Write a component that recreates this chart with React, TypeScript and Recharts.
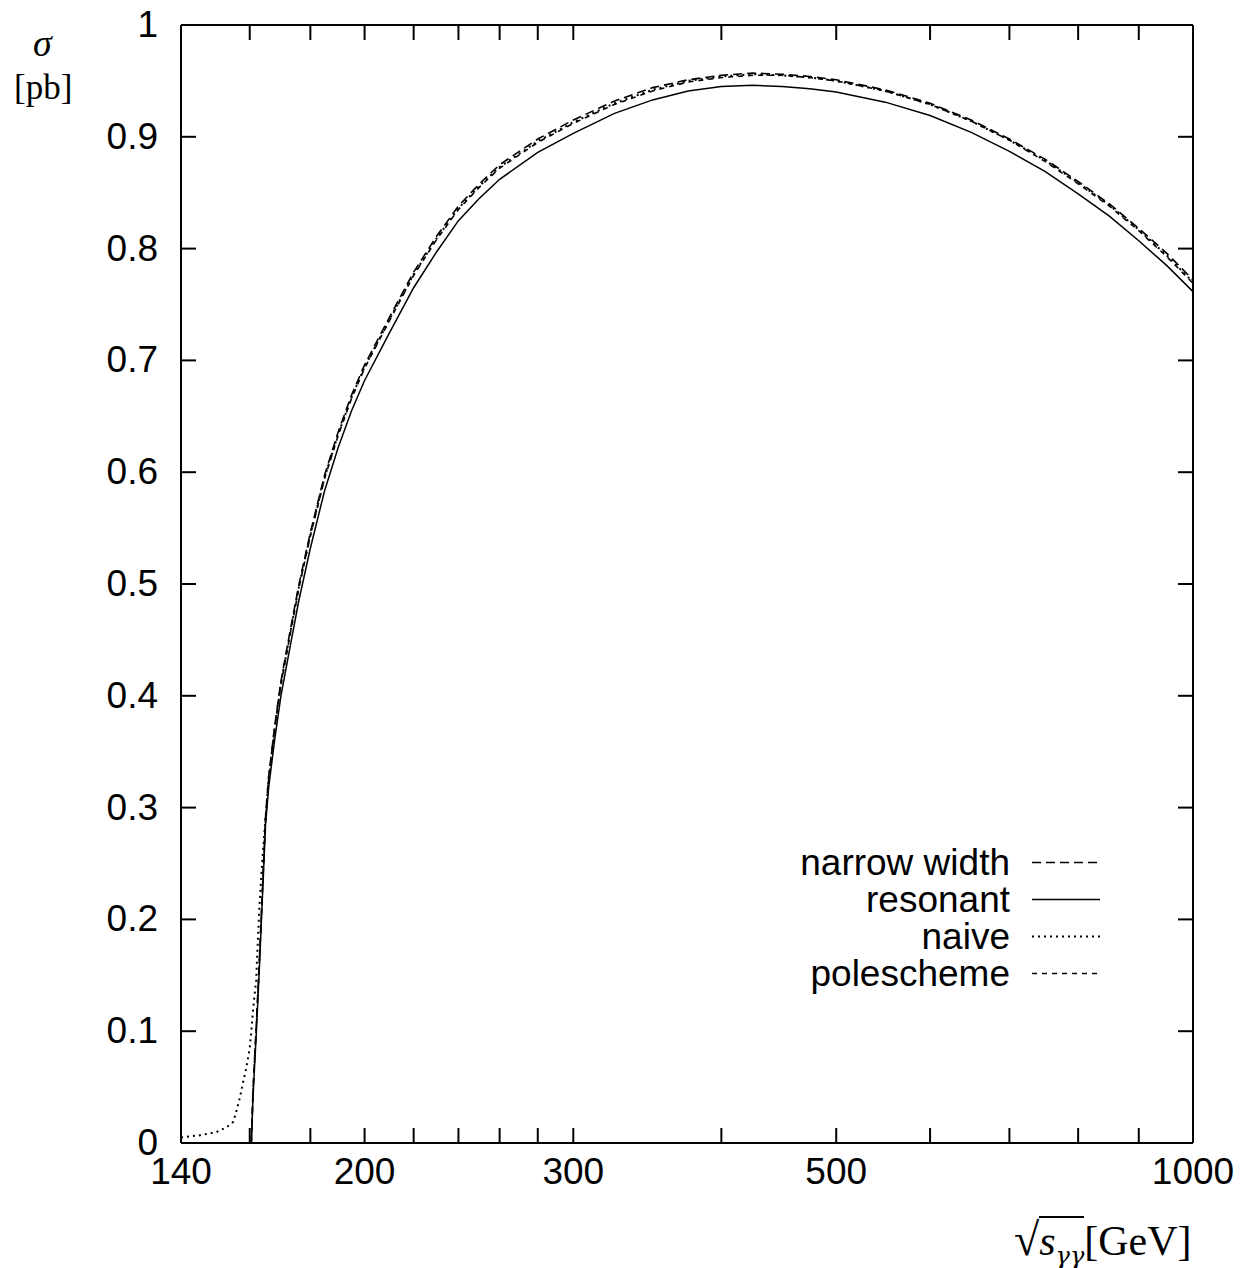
import React from 'react';
import { LineChart, Line, XAxis, YAxis, Legend } from 'recharts';

// sqrt(s) in GeV
const energies = [
  140, 145, 150, 153, 155, 156, 157, 158, 159, 160, 160.5, 161, 161.5, 162, 163, 164, 165, 166,
  168, 170, 173, 176, 180, 185, 190, 195, 200, 210, 220, 230, 240, 250, 260, 280, 300, 325, 350,
  375, 400, 425, 450, 475, 500, 550, 600, 650, 700, 750, 800, 850, 900, 950, 1000,
];

// sigma in pb
const narrowWidth = [
  null, null, null, null, null, null, null, null, null, null, 0, 0.045, 0.075, 0.102, 0.162, 0.228, 0.292, 0.328,
  0.374, 0.413, 0.457, 0.499, 0.546, 0.597, 0.636, 0.669, 0.696, 0.739, 0.779, 0.811, 0.838, 0.858, 0.875, 0.898, 0.915, 0.932, 0.944,
  0.951, 0.955, 0.957, 0.956, 0.954, 0.951, 0.942, 0.93, 0.915, 0.898, 0.88, 0.86, 0.84, 0.818, 0.796, 0.772,
];

const resonant = [
  null, null, null, null, null, null, null, null, null, null, 0, 0.04, 0.068, 0.095, 0.155, 0.22, 0.285, 0.318,
  0.362, 0.4, 0.443, 0.485, 0.532, 0.583, 0.622, 0.655, 0.682, 0.725, 0.765, 0.797, 0.825, 0.845, 0.862, 0.886, 0.903, 0.921, 0.933,
  0.941, 0.945, 0.946, 0.945, 0.943, 0.94, 0.931, 0.919, 0.904, 0.887, 0.869, 0.849, 0.829, 0.807, 0.785, 0.7615,
];

const naive = [
  0.005, 0.0068, 0.0098, 0.0142, 0.019, 0.0295, 0.041, 0.055, 0.068, 0.085, 0.1, 0.118, 0.132, 0.145, 0.21, 0.255, 0.291, 0.326,
  0.372, 0.411, 0.455, 0.497, 0.544, 0.595, 0.634, 0.667, 0.694, 0.737, 0.777, 0.809, 0.836, 0.856, 0.873, 0.896, 0.913, 0.93, 0.942,
  0.95, 0.954, 0.956, 0.955, 0.953, 0.95, 0.941, 0.929, 0.914, 0.897, 0.879, 0.859, 0.839, 0.817, 0.794, 0.77,
];

const poleScheme = [
  null, null, null, null, null, null, null, null, null, null, 0, 0.043, 0.073, 0.1, 0.16, 0.226, 0.29, 0.325,
  0.371, 0.41, 0.454, 0.496, 0.543, 0.594, 0.633, 0.666, 0.693, 0.736, 0.776, 0.808, 0.835, 0.855, 0.872, 0.895, 0.912, 0.929, 0.941,
  0.949, 0.953, 0.955, 0.955, 0.953, 0.95, 0.941, 0.929, 0.914, 0.897, 0.878, 0.858, 0.838, 0.816, 0.793, 0.769,
];

const xTicks = [140, 160, 180, 200, 220, 240, 260, 280, 300, 400, 500, 600, 700, 800, 900, 1000];
const xLabels = [140, 200, 300, 500, 1000];
const yTicks = [0, 0.1, 0.2, 0.3, 0.4, 0.5, 0.6, 0.7, 0.8, 0.9, 1];

const series = [
  { key: 'narrow', name: 'narrow width', dash: '9 5', width: 1.6 },
  { key: 'resonant', name: 'resonant', dash: undefined, width: 1.5 },
  { key: 'naive', name: 'naive', dash: '2 4', width: 2 },
  { key: 'pole', name: 'polescheme', dash: '5 5', width: 1.6 },
];

const data = energies.map((e, i) => ({
  e,
  narrow: narrowWidth[i],
  resonant: resonant[i],
  naive: naive[i],
  pole: poleScheme[i],
}));

const FONT = '"Liberation Sans", Arial, sans-serif';
const SERIF = '"Liberation Serif", "Times New Roman", serif';
const TICK = 15;
const FS = 37;

// gnuplot style: ticks point into the frame on all four sides
function BottomTick({ x, y, payload }: any) {
  return (
    <g>
      <line x1={x} x2={x} y1={y} y2={y - TICK} stroke="#000" strokeWidth={2} />
      {xLabels.includes(payload.value) && (
        <text x={x} y={y + 41} textAnchor="middle" fontFamily={FONT} fontSize={FS} fill="#000">
          {payload.value}
        </text>
      )}
    </g>
  );
}

function TopTick({ x, y }: any) {
  return <line x1={x} x2={x} y1={y} y2={y + TICK} stroke="#000" strokeWidth={2} />;
}

function LeftTick({ x, y, payload }: any) {
  return (
    <g>
      <line x1={x} x2={x + TICK} y1={y} y2={y} stroke="#000" strokeWidth={2} />
      <text x={x - 23} y={y + 12} textAnchor="end" fontFamily={FONT} fontSize={FS} fill="#000">
        {payload.value}
      </text>
    </g>
  );
}

function RightTick({ x, y }: any) {
  return <line x1={x} x2={x - TICK} y1={y} y2={y} stroke="#000" strokeWidth={2} />;
}

function LegendBox({ payload }: any) {
  const items = [...(payload || [])].sort(
    (a: any, b: any) =>
      series.findIndex((s) => s.name === a.value) - series.findIndex((s) => s.name === b.value),
  );
  return (
    <div style={{ fontFamily: FONT, fontSize: FS, color: '#000' }}>
      {items.map((entry: any) => {
        const s = series.find((d) => d.name === entry.value);
        return (
          <div key={entry.value} style={{ display: 'flex', alignItems: 'center', height: 37 }}>
            <span style={{ width: 230, textAlign: 'right', lineHeight: '37px', whiteSpace: 'nowrap' }}>
              {entry.value}
            </span>
            <svg width={90} height={37}>
              <line
                x1={22}
                x2={90}
                y1={18.5}
                y2={18.5}
                stroke="#000"
                strokeWidth={s?.width ?? 1.5}
                strokeDasharray={s?.dash}
              />
            </svg>
          </div>
        );
      })}
    </div>
  );
}

export default function App() {
  // the wrapper cancels the body's top margin so the "1" label has room above the frame
  return (
    <div style={{ position: 'relative', width: 1242, height: 1268, marginTop: -8, background: '#fff' }}>
      <LineChart
        width={1242}
        height={1268}
        data={data}
        margin={{ top: 8, right: 0, bottom: 65, left: 0 }}
        style={{ overflow: 'visible' }}
      >
        <XAxis
          dataKey="e"
          type="number"
          scale="log"
          domain={[140, 1000]}
          allowDataOverflow
          ticks={xTicks}
          interval={0}
          height={60}
          tickSize={0}
          tickMargin={0}
          tickLine={false}
          axisLine={{ stroke: '#000', strokeWidth: 2 }}
          tick={<BottomTick />}
        />
        <XAxis
          xAxisId="top"
          orientation="top"
          dataKey="e"
          type="number"
          scale="log"
          domain={[140, 1000]}
          allowDataOverflow
          ticks={xTicks}
          interval={0}
          height={17}
          tickSize={0}
          tickMargin={0}
          tickLine={false}
          axisLine={{ stroke: '#000', strokeWidth: 2 }}
          tick={<TopTick />}
        />
        <YAxis
          type="number"
          domain={[0, 1]}
          allowDataOverflow
          ticks={yTicks}
          interval={0}
          width={173}
          tickSize={0}
          tickMargin={0}
          tickLine={false}
          axisLine={{ stroke: '#000', strokeWidth: 2 }}
          tick={<LeftTick />}
        />
        <YAxis
          yAxisId="right"
          orientation="right"
          type="number"
          domain={[0, 1]}
          allowDataOverflow
          ticks={yTicks}
          interval={0}
          width={57}
          tickSize={0}
          tickMargin={0}
          tickLine={false}
          axisLine={{ stroke: '#000', strokeWidth: 2 }}
          tick={<RightTick />}
        />
        <Legend
          layout="vertical"
          align="center"
          verticalAlign="middle"
          content={<LegendBox />}
          wrapperStyle={{ left: 772, top: 844, width: 320 }}
        />
        {series.map((s) => (
          <Line
            key={s.key}
            dataKey={s.key}
            name={s.name}
            type="linear"
            stroke="#000"
            strokeWidth={s.width}
            strokeDasharray={s.dash}
            dot={false}
            activeDot={false}
            isAnimationActive={false}
          />
        ))}
      </LineChart>

      <div style={{ position: 'absolute', left: 25, top: 24, fontFamily: SERIF, fontStyle: 'italic', fontSize: 38, lineHeight: 1 }}>σ</div>
      <div style={{ position: 'absolute', left: 6, top: 70, fontFamily: SERIF, fontSize: 35, lineHeight: 1 }}>[pb]</div>
      <div
        style={{
          position: 'absolute',
          left: 1006,
          top: 1217,
          fontFamily: SERIF,
          fontSize: 42,
          whiteSpace: 'nowrap',
          lineHeight: 1,
        }}
      >
        <span style={{ fontSize: 46 }}>√</span>
        <span style={{ borderTop: '2px solid #000', fontStyle: 'italic' }}>
          s<sub style={{ fontSize: 24, fontFamily: '"DejaVu Serif", serif', lineHeight: 1 }}>γγ</sub>
        </span>
        [GeV]
      </div>
    </div>
  );
}
